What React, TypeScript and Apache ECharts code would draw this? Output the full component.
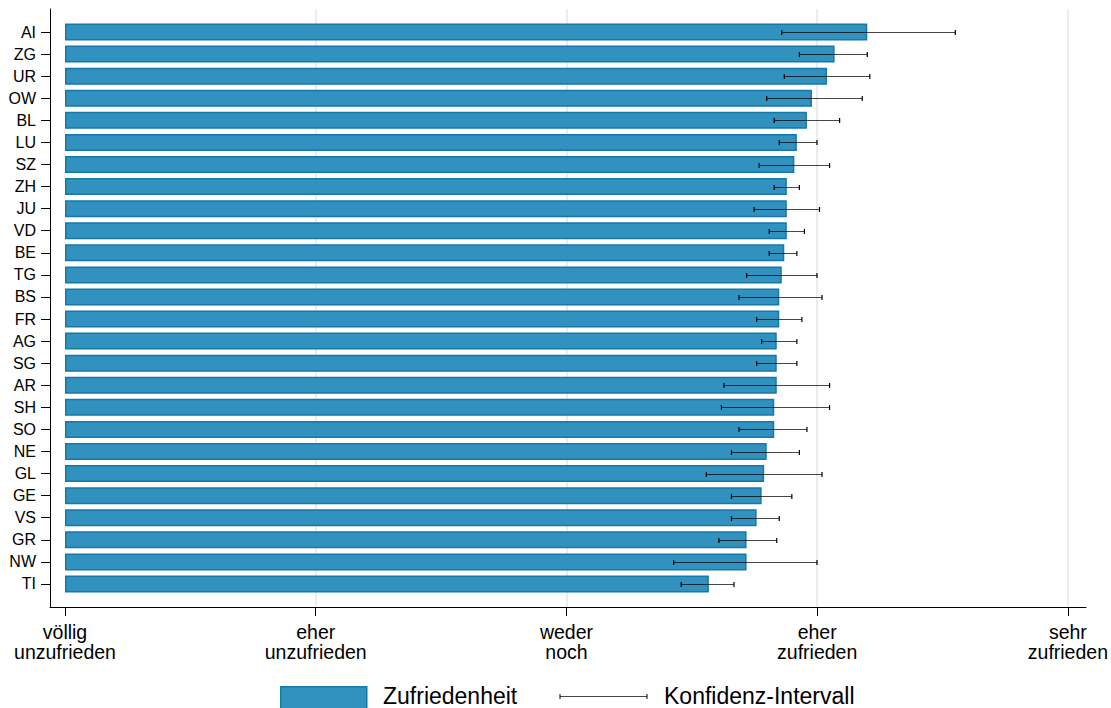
import React, { useEffect, useRef } from "react";
import * as echarts from "echarts";

const categories = ["AI","ZG","UR","OW","BL","LU","SZ","ZH","JU","VD","BE","TG","BS","FR","AG","SG","AR","SH","SO","NE","GL","GE","VS","GR","NW","TI"];
const means = [4.19,4.06,4.03,3.97,3.95,3.91,3.90,3.87,3.87,3.87,3.86,3.85,3.84,3.84,3.83,3.83,3.83,3.82,3.82,3.79,3.78,3.77,3.75,3.71,3.71,3.56];
const lower = [3.85,3.92,3.86,3.79,3.82,3.84,3.76,3.82,3.74,3.80,3.80,3.71,3.68,3.75,3.77,3.75,3.62,3.61,3.68,3.65,3.55,3.65,3.65,3.60,3.42,3.45];
const upper = [4.54,4.19,4.20,4.17,4.08,3.99,4.04,3.92,4.00,3.94,3.91,3.99,4.01,3.93,3.91,3.91,4.04,4.04,3.95,3.92,4.01,3.89,3.84,3.83,3.99,3.66];
const tickValues = [1, 2, 3, 4, 5];
const tickLabels = ["völlig\nunzufrieden", "eher\nunzufrieden", "weder\nnoch", "eher\nzufrieden", "sehr\nzufrieden"];
const scaleMin = 1;
const scaleMax = 5;

const FONT = "'Liberation Sans', Arial, Helvetica, sans-serif";
const BAR_FILL = "#3292BF";
const BAR_BORDER = "#1578AB";
const GRID_COLOR = "#E6EEF2";
const ERR_COLOR = "rgba(0,0,0,0.72)";

export default function App() {
  const ref = useRef<HTMLDivElement>(null);
  useEffect(() => {
    if (!ref.current) return;
    const chart = echarts.init(ref.current, undefined, { renderer: "svg" });
    const option: any = {
      animation: false,
      backgroundColor: "#ffffff",
      textStyle: { fontFamily: FONT },
      grid: [
        { left: 50, right: 25, top: 9, bottom: 101 },
        { left: 65, right: 40, top: 9, bottom: 101 },
        { left: 65, right: 40, top: 21, bottom: 113 },
      ],
      xAxis: [
        {
          gridIndex: 0, type: "value", min: 0, max: 1,
          axisLine: { show: true, lineStyle: { color: "#000", width: 1 } },
          axisTick: { show: false }, axisLabel: { show: false }, splitLine: { show: false },
        },
        {
          gridIndex: 1, type: "value", min: scaleMin, max: scaleMax, interval: 1,
          axisLine: { show: false },
          axisTick: { show: true, length: 9, lineStyle: { color: "#000", width: 1 } },
          axisLabel: {
            show: true, margin: 15, fontSize: 19.5, lineHeight: 20, color: "#000", fontFamily: FONT,
            formatter: (v: number) => {
              const i = tickValues.indexOf(Math.round(v));
              return i >= 0 ? tickLabels[i] : "";
            },
          },
          splitLine: {
            show: true,
            lineStyle: { color: ["rgba(0,0,0,0)", GRID_COLOR, GRID_COLOR, GRID_COLOR, GRID_COLOR], width: 2 },
          },
        },
        {
          gridIndex: 2, type: "value", min: scaleMin, max: scaleMax, show: false,
        },
      ],
      yAxis: [
        {
          gridIndex: 0, type: "value", min: 0, max: 1,
          axisLine: { show: true, lineStyle: { color: "#000", width: 1 } },
          axisTick: { show: false }, axisLabel: { show: false }, splitLine: { show: false },
        },
        { gridIndex: 1, type: "value", show: false },
        {
          gridIndex: 2, type: "category", data: categories, inverse: true, offset: 15,
          axisLine: { show: false },
          axisTick: { show: true, alignWithLabel: true, length: 9, lineStyle: { color: "#000" } },
          axisLabel: { fontSize: 16, color: "#000", margin: 14, fontFamily: FONT },
          splitLine: { show: false },
        },
      ],
      series: [
        {
          type: "bar", xAxisIndex: 2, yAxisIndex: 2, stack: "s",
          data: means.map(() => scaleMin),
          itemStyle: { color: "rgba(0,0,0,0)" },
          barWidth: 17, silent: true,
        },
        {
          name: "Zufriedenheit", type: "bar", xAxisIndex: 2, yAxisIndex: 2, stack: "s",
          data: means.map((m) => +(m - scaleMin).toFixed(4)),
          barWidth: 17,
          itemStyle: { color: BAR_FILL, borderColor: BAR_BORDER, borderWidth: 1.5 },
        },
        {
          name: "Konfidenz-Intervall", type: "custom", xAxisIndex: 2, yAxisIndex: 2,
          data: categories.map((c, i) => [lower[i], upper[i], i]),
          encode: { x: [0, 1], y: 2 },
          renderItem: (params: any, api: any) => {
            const lo = api.coord([api.value(0), api.value(2)]);
            const hi = api.coord([api.value(1), api.value(2)]);
            const y = Math.round(lo[1]) + 0.5;
            const cap = 2.5;
            const style = { stroke: ERR_COLOR, lineWidth: 1 };
            return {
              type: "group",
              children: [
                { type: "line", shape: { x1: lo[0], y1: y, x2: hi[0], y2: y }, style },
                { type: "line", shape: { x1: lo[0], y1: y - cap, x2: lo[0], y2: y + cap }, style: { stroke: "#000", lineWidth: 1.2 } },
                { type: "line", shape: { x1: hi[0], y1: y - cap, x2: hi[0], y2: y + cap }, style: { stroke: "#000", lineWidth: 1.2 } },
              ],
            };
          },
          z: 5,
        },
      ],
      graphic: [
        { type: "rect", left: 280, top: 686, shape: { width: 86, height: 24 }, style: { fill: BAR_FILL, stroke: BAR_BORDER, lineWidth: 1.5 } },
        { type: "text", left: 383, top: 684, style: { text: "Zufriedenheit", fontSize: 23, fontFamily: FONT, fill: "#000" } },
        { type: "line", shape: { x1: 560, y1: 696.5, x2: 647, y2: 696.5 }, style: { stroke: ERR_COLOR, lineWidth: 1 } },
        { type: "line", shape: { x1: 560, y1: 694, x2: 560, y2: 699 }, style: { stroke: "#000", lineWidth: 1 } },
        { type: "line", shape: { x1: 647, y1: 694, x2: 647, y2: 699 }, style: { stroke: "#000", lineWidth: 1 } },
        { type: "text", left: 664, top: 684, style: { text: "Konfidenz-Intervall", fontSize: 23, fontFamily: FONT, fill: "#000" } },
      ],
    };
    chart.setOption(option);
    return () => chart.dispose();
  }, []);
  return (
    <div
      ref={ref}
      style={{ position: "fixed", left: 0, top: 0, width: 1111, height: 708, background: "#fff" }}
    />
  );
}
